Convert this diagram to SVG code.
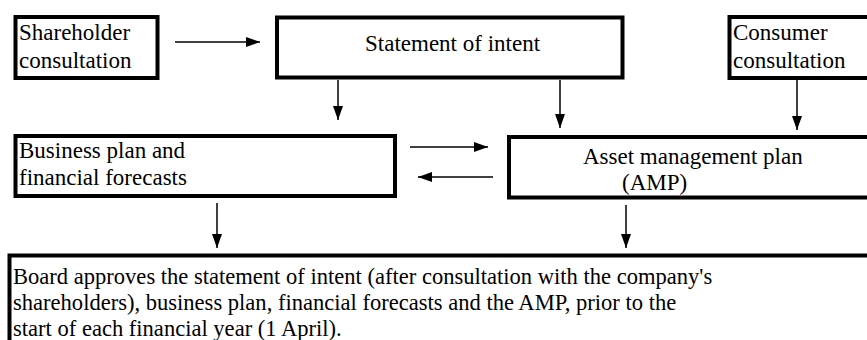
<svg xmlns="http://www.w3.org/2000/svg" width="867" height="340" viewBox="0 0 867 340">
<style>
.box{fill:#fff;stroke:#000;stroke-width:4}
.t{font-size:23px;fill:#000}
.b{font-size:24px;fill:#000}
.c{stroke:#000;stroke-width:1.5;fill:none}
</style>
<defs>
<marker id="ah" markerUnits="userSpaceOnUse" markerWidth="14" markerHeight="10" refX="14" refY="5" orient="auto">
<path d="M0,0 L14,5 L0,10 z" fill="#000"/>
</marker>
</defs>
<rect width="867" height="340" fill="#fff"/>
<g font-family="'Liberation Serif', 'Times New Roman', 'DejaVu Serif', serif">
<g id="shareholder">
<rect class="box" x="15.5" y="17" width="142" height="61"/>
<text class="t" x="19" y="40">Shareholder</text>
<text class="t" x="19" y="68">consultation</text>
</g>
<g id="statement">
<rect class="box" x="277" y="17.5" width="345.5" height="60"/>
<text class="t" x="365" y="51">Statement of intent</text>
</g>
<g id="consumer">
<rect class="box" x="729.5" y="17" width="150" height="61"/>
<text class="t" x="733" y="40">Consumer</text>
<text class="t" x="733" y="68">consultation</text>
</g>
<g id="business">
<rect class="box" x="15.5" y="136" width="379.5" height="60"/>
<text class="t" x="19" y="158">Business plan and</text>
<text class="t" x="19" y="185">financial forecasts</text>
</g>
<g id="amp">
<rect class="box" x="509" y="137" width="370" height="60.5"/>
<text class="t" x="583" y="164">Asset management plan</text>
<text class="t" x="622" y="190">(AMP)</text>
</g>
<g id="board">
<rect class="box" x="9.5" y="255.5" width="870" height="100"/>
<g transform="translate(13,0) scale(0.94,1)">
<text class="b" x="0" y="284">Board approves the statement of intent (after consultation with the company's</text>
<text class="b" x="0" y="310">shareholders), business plan, financial forecasts and the AMP, prior to the</text>
<text class="b" x="0" y="336">start of each financial year (1 April).</text>
</g>
</g>
</g>
<g id="connectors">
<line class="c" x1="175" y1="42" x2="260" y2="42" marker-end="url(#ah)"/>
<line class="c" x1="338" y1="80" x2="338" y2="120" marker-end="url(#ah)"/>
<line class="c" x1="560" y1="80" x2="560" y2="128" marker-end="url(#ah)"/>
<line class="c" x1="797" y1="80" x2="797" y2="130" marker-end="url(#ah)"/>
<line class="c" x1="410" y1="147" x2="488" y2="147" marker-end="url(#ah)"/>
<line class="c" x1="493" y1="177" x2="418" y2="177" marker-end="url(#ah)"/>
<line class="c" x1="217" y1="203" x2="217" y2="248" marker-end="url(#ah)"/>
<line class="c" x1="626" y1="205" x2="626" y2="248" marker-end="url(#ah)"/>
</g>
</svg>
